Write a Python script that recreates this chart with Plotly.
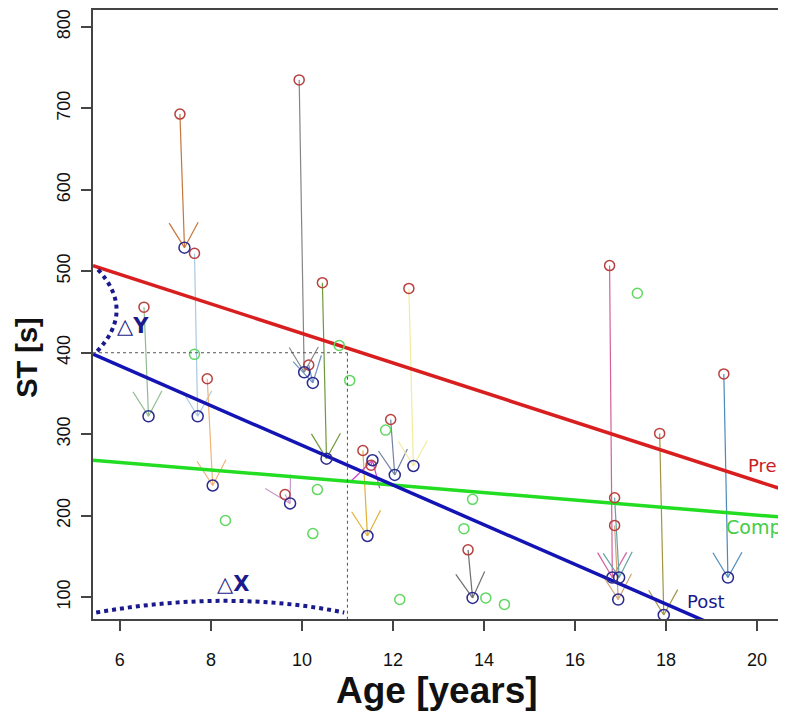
import math
import plotly.graph_objects as go

# ---------------- data ----------------
# paired subjects: pre -> post (age [years], ST [s])
pre_age  = [6.53, 7.32, 7.64, 7.92, 9.63, 9.94, 10.15, 10.45, 11.34, 11.52, 11.95, 12.35, 13.65, 16.76, 16.87, 16.87, 17.86, 19.27]
pre_st   = [456, 693, 522, 368, 226, 735, 385, 486, 280, 262, 318, 479, 158, 507, 222, 188, 301, 374]
post_age = [6.63, 7.42, 7.71, 8.04, 9.74, 10.05, 10.24, 10.54, 11.44, 11.55, 12.04, 12.45, 13.75, 16.82, 16.97, 16.95, 17.95, 19.36]
post_st  = [322, 529, 322, 237, 215, 376, 363, 270, 175, 268, 250, 261, 99, 124, 124, 97, 78, 124]
arrow_colors = ["#93bb93", "#c4763c", "#a9c9e2", "#f0b375", "#c79ac9", "#858585",
                "#6c8fc2", "#6f9a3c", "#e1b135", "#cc44cc", "#7282a2", "#f3ea9c",
                "#6e6e6e", "#d2609e", "#62a2a2", "#d2a272", "#a39444", "#4c8aba"]

# comparison group
comp_age = [7.64, 8.32, 10.34, 10.24, 10.82, 11.05, 11.84, 12.15, 13.56, 13.75, 14.04, 14.45, 17.37]
comp_st  = [398, 194, 232, 178, 409, 366, 305, 97, 184, 220, 99, 91, 473]

# regression lines (endpoints at the plot edges)
fit_x      = [5.41, 20.57]
pre_fit_y  = [507, 232]
comp_fit_y = [268, 198]
post_fit_y = [398.2, 28.8]

# axis
x_range = [5.41, 20.57]
y_range = [73.1, 820.8]
x_ticks = [6, 8, 10, 12, 14, 16, 18, 20]
y_ticks = [100, 200, 300, 400, 500, 600, 700, 800]

# delta annotations
ref_age = 11.0
ref_st = 400
dy_arc = [(5.52, 502), (6.36, 451), (5.47, 400)]   # start, control, end
dx_arc = [(5.48, 81), (8.40, 109.8), (10.93, 81)]

# ---------------- layout constants ----------------
W, H = 778, 705
ML, MR, MT, MB = 85, 3, 0, 94
PW, PH = W - ML - MR, H - MT - MB
sx = PW / (x_range[1] - x_range[0])
sy = PH / (y_range[1] - y_range[0])
HEAD_LEN = 29
HEAD_ANG = math.radians(30)

fig = go.Figure()

# arrows
for i in range(len(pre_age)):
    x0, y0, x1, y1 = pre_age[i], pre_st[i], post_age[i], post_st[i]
    dxp, dyp = (x1 - x0) * sx, (y1 - y0) * sy
    th = math.atan2(dyp, dxp)
    xs = [x0, x1, None]
    ys = [y0, y1, None]
    for s in (1, -1):
        a = th + math.pi + s * HEAD_ANG
        xs += [x1, x1 + HEAD_LEN * math.cos(a) / sx, None]
        ys += [y1, y1 + HEAD_LEN * math.sin(a) / sy, None]
    fig.add_trace(go.Scatter(x=xs, y=ys, mode="lines",
                             line=dict(color=arrow_colors[i], width=1.2),
                             hoverinfo="skip", showlegend=False))

# fit lines
fig.add_trace(go.Scatter(x=fit_x, y=comp_fit_y, mode="lines",
                         line=dict(color="#22dd22", width=3.5), showlegend=False))
fig.add_trace(go.Scatter(x=fit_x, y=pre_fit_y, mode="lines",
                         line=dict(color="#d81e1e", width=3.5), showlegend=False))
fig.add_trace(go.Scatter(x=fit_x, y=post_fit_y, mode="lines",
                         line=dict(color="#1414b4", width=3.5), showlegend=False))

# points
fig.add_trace(go.Scatter(x=comp_age, y=comp_st, mode="markers",
                         marker=dict(symbol="circle-open", size=10, color="#5fd85f",
                                     line=dict(width=1.5)), showlegend=False))
fig.add_trace(go.Scatter(x=pre_age, y=pre_st, mode="markers",
                         marker=dict(symbol="circle-open", size=10, color="#b8403e",
                                     line=dict(width=1.5)), showlegend=False))
fig.add_trace(go.Scatter(x=post_age, y=post_st, mode="markers",
                         marker=dict(symbol="circle-open", size=11, color="#2b2b8f",
                                     line=dict(width=1.5)), showlegend=False))

# reference box (dotted)
fig.add_shape(type="line", x0=x_range[0], y0=ref_st, x1=ref_age, y1=ref_st,
              xref="x", yref="y", line=dict(color="#555555", width=1, dash="dot"))
fig.add_shape(type="line", x0=ref_age, y0=ref_st, x1=ref_age, y1=y_range[0],
              xref="x", yref="y", line=dict(color="#555555", width=1, dash="dot"))

def qpath(p):
    return "M {},{} Q {},{} {},{}".format(p[0][0], p[0][1], p[1][0], p[1][1], p[2][0], p[2][1])

for arc in (dy_arc, dx_arc):
    fig.add_shape(type="path", path=qpath(arc), xref="x", yref="y",
                  line=dict(color="#1a1a8c", width=4, dash="dot"))

# labels
lab_font = "DejaVu Sans, Verdana, sans-serif"
fig.add_annotation(x=20.13, y=261.5, text="Pre", showarrow=False,
                   font=dict(family=lab_font, size=18, color="#c82020"))
fig.add_annotation(x=19.93, y=186, text="Comp", showarrow=False,
                   font=dict(family=lab_font, size=19, color="#44cc44"))
fig.add_annotation(x=18.88, y=94, text="Post", showarrow=False,
                   font=dict(family=lab_font, size=18, color="#1a1a8c"))
fig.add_annotation(x=8.48, y=116.6, text="△<b>X</b>", showarrow=False,
                   font=dict(family=lab_font, size=21, color="#1a1a8c"))
fig.add_annotation(x=6.29, y=433, text="△<b>Y</b>", showarrow=False,
                   font=dict(family=lab_font, size=21, color="#1a1a8c"))

# axis titles
title_font = "Liberation Sans, Arial, sans-serif"
fig.add_annotation(xref="paper", yref="paper", x=(437 - 93) / PW, y=-72 / PH,
                   xanchor="center", yanchor="middle", showarrow=False,
                   text="<b>Age [years]</b>",
                   font=dict(family=title_font, size=37, color="#111111"))
fig.add_annotation(xref="paper", yref="paper", x=-66 / PW, y=(619 - 357) / PH,
                   xanchor="center", yanchor="middle", showarrow=False, textangle=-90,
                   text="<b>ST [s]</b>",
                   font=dict(family=title_font, size=29, color="#111111"))

tick_font = dict(family="Liberation Sans, Arial, sans-serif", size=18, color="#111111")
axis_common = dict(showline=True, mirror=True, linecolor="#444444", linewidth=1.5,
                   ticks="outside", ticklen=10, tickwidth=1.5, tickcolor="#444444",
                   showgrid=False, zeroline=False, tickfont=tick_font)

fig.update_layout(
    width=W, height=H,
    margin=dict(l=ML, r=MR, t=MT, b=MB),
    paper_bgcolor="white", plot_bgcolor="white",
    xaxis=dict(range=x_range, tickvals=x_ticks, ticktext=[str(v) for v in x_ticks],
               ticklabelstandoff=14, **axis_common),
    yaxis=dict(range=y_range, tickvals=y_ticks, ticktext=[str(v) for v in y_ticks],
               tickangle=-90, ticklabelstandoff=4, **axis_common),
)

fig.write_html("out.html")
